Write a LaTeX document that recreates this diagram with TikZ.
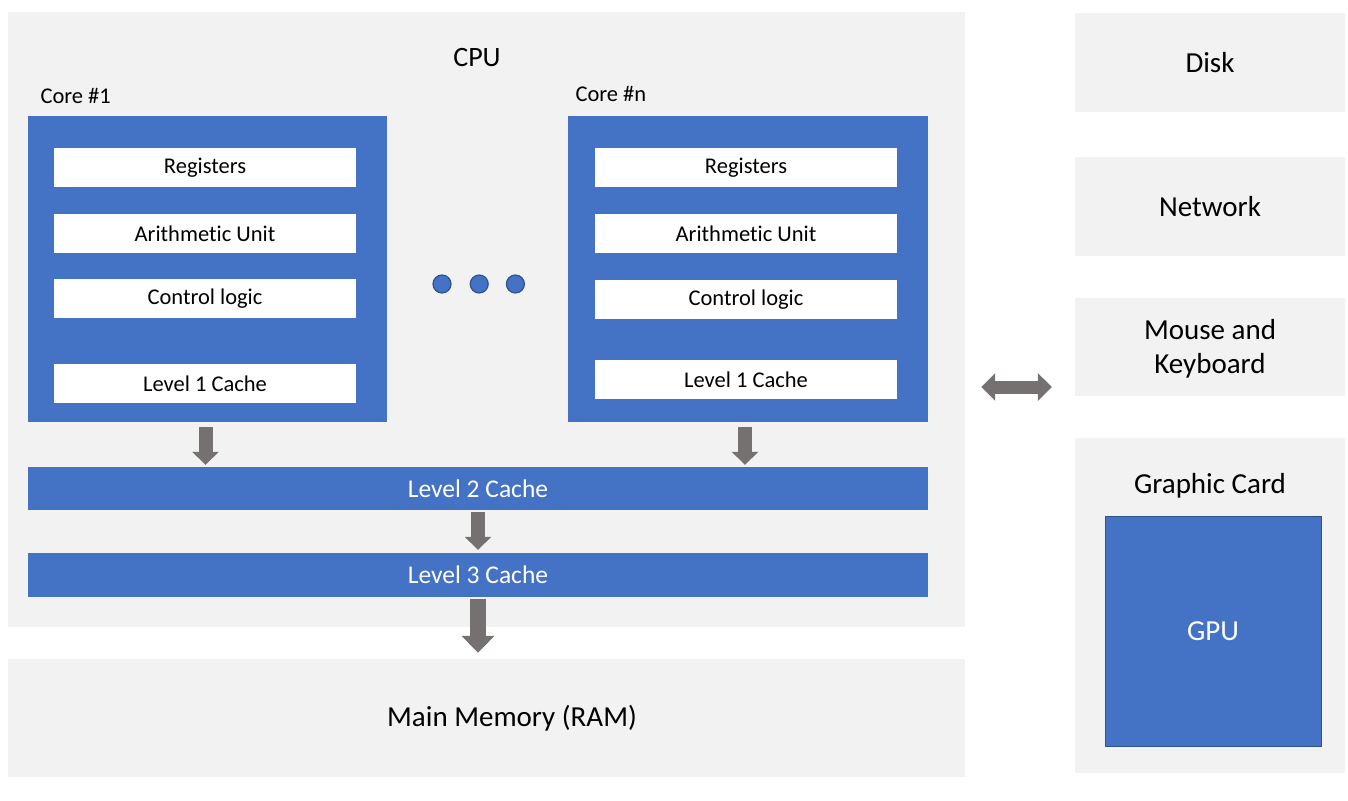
\documentclass[tikz,border=0pt]{standalone}
\usepackage{fontspec}
\setmainfont{Carlito}[Ligatures=NoCommon]
\usetikzlibrary{arrows.meta,positioning}

\definecolor{panel}{HTML}{F2F2F2}
\definecolor{blueA}{HTML}{4472C4}
\definecolor{blueB}{HTML}{2F528F}
\definecolor{arrowgray}{HTML}{767171}

\tikzset{
  panel/.style={fill=panel,draw=none,inner sep=0pt},
  core/.style={fill=blueA,draw=none,minimum width=359pt,minimum height=306pt,inner sep=0pt},
  unit/.style={fill=white,draw=none,minimum width=302pt,minimum height=39pt,inner sep=0pt,font=\fontsize{22.5}{27}\selectfont},
  cache/.style={fill=blueA,draw=none,minimum width=900pt,minimum height=43pt,inner sep=0pt,text=white,font=\fontsize{25.5}{30}\selectfont},
  dot/.style={circle,fill=blueA,draw=blueB,line width=1.2pt,minimum size=18pt,inner sep=0pt},
  flow/.style={arrowgray,line width=14pt,-{Triangle[width=26pt,length=13pt]}},
  bigflow/.style={arrowgray,line width=16pt,-{Triangle[width=32pt,length=17pt]}},
  bothways/.style={arrowgray,line width=13pt,{Triangle[width=27pt,length=14pt]}-{Triangle[width=27pt,length=14pt]}}
}

\begin{document}
\begin{tikzpicture}[x=1pt,y=-1pt]
      \useasboundingbox (0,0) rectangle (1348,800);

      \node[panel,minimum width=957pt,minimum height=615pt] (cpu) at (486.5,319.5) {};
      \node[font=\fontsize{28}{33}\selectfont] (cpu_t) at (477,58) {CPU};
      \node[panel,minimum width=957pt,minimum height=118pt] (ram) at (486.5,718) {};
      \node[font=\fontsize{29}{34}\selectfont] (ram_t) at (512,718) {Main Memory (RAM)};

      \node[panel,minimum width=270pt,minimum height=99pt,font=\fontsize{29}{34}\selectfont] (disk) at (1210,62.5) {Disk};
      \node[panel,minimum width=270pt,minimum height=99pt,font=\fontsize{29}{34}\selectfont] (net) at (1210,206.5) {Network};
      \node[panel,minimum width=270pt,minimum height=98pt] (mk) at (1210,347) {};
      \node[align=center,font=\fontsize{29}{34}\selectfont] (mk_t) at (1210,349) {Mouse and\\Keyboard};
      \node[panel,minimum width=270pt,minimum height=335pt] (gc) at (1210,605.5) {};
      \node[font=\fontsize{29}{34}\selectfont] (gc_t) at (1210,486) {Graphic Card};
      \node[fill=blueA,draw=blueB,line width=1pt,minimum width=216pt,minimum height=230pt,font=\fontsize{29}{34}\selectfont,text=white] (gpu) at (1213,631) {GPU};

      \node[core] (c_1) at (207.5,269) {};
      \node[anchor=west,font=\fontsize{22.5}{27}\selectfont] (c_1t) at (37,96) {Core \#1};
      \node[unit] (c_1r) at (205,167.5) {Registers};
      \node[unit] (c_1a) at (205,233.5) {Arithmetic Unit};
      \node[unit] (c_1c) at (205,298.5) {Control logic};
      \node[unit] (c_1l) at (205,383.5) {Level 1 Cache};

      \node[core,minimum width=360pt] (c_n) at (748,269) {};
      \node[anchor=west,font=\fontsize{22.5}{27}\selectfont] (c_nt) at (572,94) {Core \#n};
      \node[unit] (c_nr) at (746,167.5) {Registers};
      \node[unit] (c_na) at (746,233.5) {Arithmetic Unit};
      \node[unit] (c_nc) at (746,299.5) {Control logic};
      \node[unit] (c_nl) at (746,379.5) {Level 1 Cache};

      \node[dot] (d_1) at (442,284) {};
      \node[dot] (d_2) [right=18pt of d_1] {};
      \node[dot] (d_3) [right=17pt of d_2] {};

      \node[cache] (l_2) at (478,488.5) {Level 2 Cache};
      \node[cache,minimum height=44pt] (l_3) at (478,575) {Level 3 Cache};

      \coordinate (io) at (1016,387);

      \draw[flow,shorten <=5pt,shorten >=2pt] ([xshift=-2pt]c_1.south) -- ([xshift=-2pt]c_1.south |- l_2.north);
      \draw[flow,shorten <=5pt,shorten >=2pt] ([xshift=-3pt]c_n.south) -- ([xshift=-3pt]c_n.south |- l_2.north);
      \draw[flow,shorten <=2pt,shorten >=3pt] (l_2) -- (l_3);
      \draw[bigflow,shorten <=2pt,shorten >=6pt] (l_3.south) -- (l_3.south |- ram.north);
      \draw[bothways,shorten <=16pt,shorten >=23pt] (cpu.east |- io) -- (mk.west |- io);
    \end{tikzpicture}
\end{document}
